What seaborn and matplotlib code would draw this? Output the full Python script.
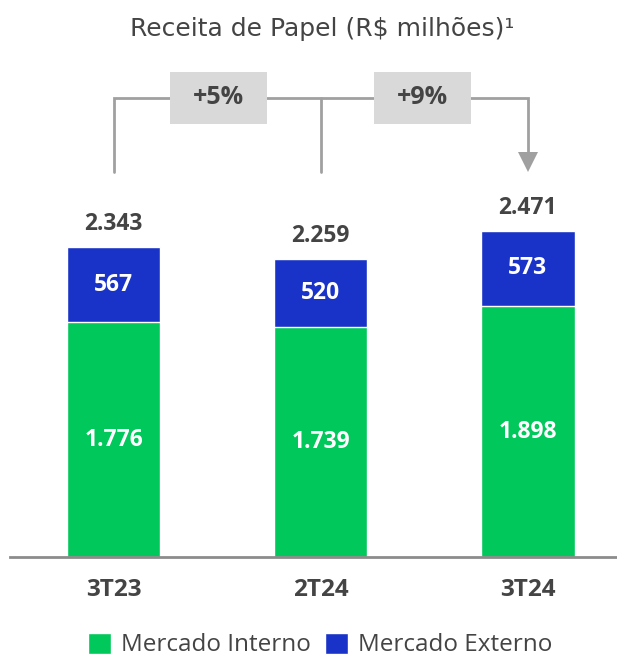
import seaborn as sns
import matplotlib.pyplot as plt
import numpy as np
import pandas as pd
from matplotlib.patches import Rectangle, Patch

periodos = ["3T23", "2T24", "3T24"]
interno = [1776, 1739, 1898]
externo = [567, 520, 573]
variacoes = ["+5%", "+9%"]

verde = "#00c85a"
azul = "#1932c8"
cinza_txt = "#444444"
cinza_linha = "#a0a0a0"

def fmt(v):
    return f"{v:,}".replace(",", ".")

dados = pd.DataFrame({"periodo": periodos, "interno": interno, "externo": externo})
dados["total"] = dados["interno"] + dados["externo"]

sns.set_style("white")
plt.rcParams["font.family"] = ["Open Sans", "DejaVu Sans"]

fig = plt.figure(figsize=(6.17, 6.57), dpi=100)
ax = fig.add_axes([10 / 617, 100 / 657, 607 / 617, 557 / 657])

sns.barplot(data=dados, x="periodo", y="total", color=azul, width=0.45,
            saturation=1, ax=ax)
sns.barplot(data=dados, x="periodo", y="interno", color=verde, width=0.45,
            saturation=1, ax=ax)

ppu = 0.1321  # pixels por unidade
ax.set_xlim(-0.5, 2.43)
ax.set_ylim(0, 557 / ppu)

def py(p):
    return (557 - p) / ppu

for i, row in dados.iterrows():
    ax.text(i, row["interno"] / 2, fmt(row["interno"]), ha="center", va="center",
            color="white", fontsize=16.5, fontweight="bold")
    ax.text(i, row["interno"] + row["externo"] / 2, fmt(row["externo"]),
            ha="center", va="center", color="white", fontsize=16.5, fontweight="bold")
    ax.text(i, row["total"] + 11 / ppu, fmt(row["total"]), ha="center",
            va="bottom", color=cinza_txt, fontsize=16.5, fontweight="bold")

# colchete de variação
lw = 2
ax.plot([0, 0, 2, 2], [py(172), py(98), py(98), py(153)], color=cinza_linha,
        lw=lw, solid_joinstyle="miter", zorder=1)
ax.plot([1, 1], [py(98), py(172)], color=cinza_linha, lw=lw, zorder=1)
ax.plot([2], [py(162)], marker="v", markersize=14, color=cinza_linha,
        markeredgewidth=0, zorder=1)
for x0, txt in zip([0.273, 1.258], variacoes):
    ax.add_patch(Rectangle((x0, py(124)), 0.469, py(72) - py(124),
                           facecolor="#d9d9d9", edgecolor="none", zorder=2))
    ax.text(x0 + 0.2345, py(98), txt, ha="center", va="center", color=cinza_txt,
            fontsize=18, fontweight="bold", zorder=3)

sns.despine(ax=ax, left=True)
ax.spines["bottom"].set_color("#8c8c8c")
ax.spines["bottom"].set_linewidth(2)
ax.set_yticks([])
ax.set_xlabel("")
ax.set_ylabel("")
ax.tick_params(axis="x", length=0, pad=15)
for lbl in ax.get_xticklabels():
    lbl.set_fontweight("bold")
    lbl.set_fontsize(17.5)
    lbl.set_color(cinza_txt)

fig.text(322 / 617, 1 - 29 / 657, "Receita de Papel (R$ milhões)¹", ha="center",
         va="center", fontsize=18, color=cinza_txt,
         family=["DejaVu Sans"])

handles = [Patch(facecolor=verde, label="Mercado Interno"),
           Patch(facecolor=azul, label="Mercado Externo")]
fig.legend(handles=handles, loc="center", bbox_to_anchor=(320 / 617, 1 - 645 / 657),
           ncol=2, frameon=False, fontsize=17.5, handlelength=0.95, handleheight=0.95,
           handletextpad=0.4, columnspacing=0.6, labelcolor=cinza_txt)

fig.savefig("out.png", dpi=100)
